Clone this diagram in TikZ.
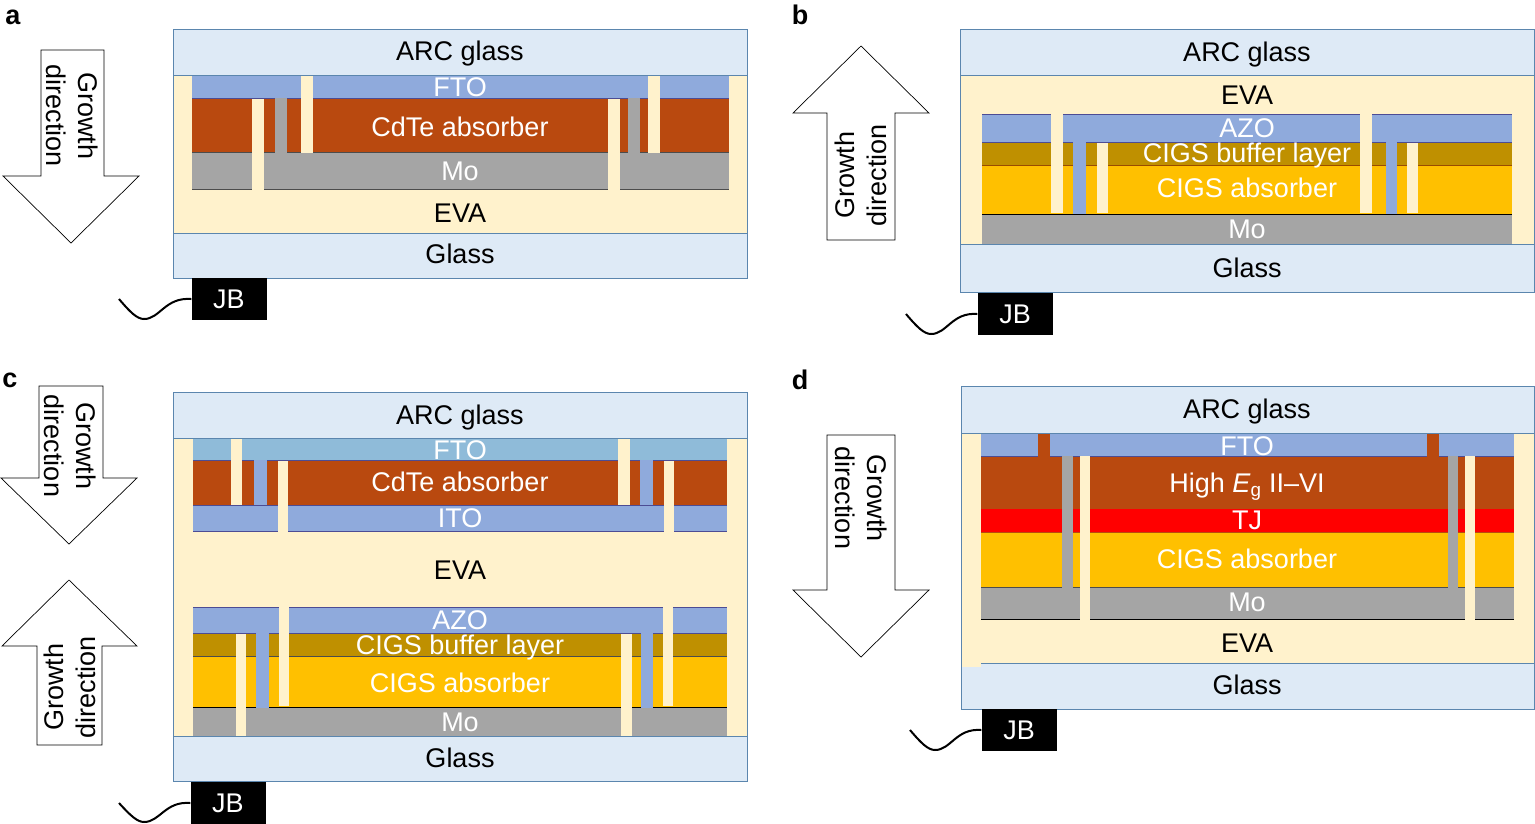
\documentclass[tikz,border=0pt]{standalone}
\usepackage{fontspec}
\setmainfont{Liberation Sans}
\definecolor{arcfill}{HTML}{DEEAF6}
\definecolor{boxline}{HTML}{5B86AE}
\definecolor{evafill}{HTML}{FFF2CC}
\definecolor{ftofill}{HTML}{8FAADC}
\definecolor{ftolight}{HTML}{8FBBD9}
\definecolor{cdtefill}{HTML}{B9490F}
\definecolor{mofill}{HTML}{A5A5A5}
\definecolor{cigsfill}{HTML}{FFC000}
\definecolor{bufferfill}{HTML}{BF9000}
\definecolor{tjfill}{HTML}{FF0000}
\tikzset{x=1pt, y=-1pt, % One unit is one pixel of the layout
every node/.style={font=\fontsize{27}{32}\selectfont, inner sep=0pt},
dark/.style={text=black}, % Labels on glass and EVA
light/.style={text=white}, % Labels on the layers
panel/.style={font=\fontsize{27}{32}\selectfont\bfseries, text=black},
outer/.style={draw=boxline, line width=1pt},
rule/.style={line width=0.8pt},
growth/.style={draw=black, line width=0.7pt, fill=white},
growthtext/.style={align=center, text=black},
jbbox/.style={fill=black, text=white, minimum width=75pt, minimum height=42pt},
wire/.style={draw=black, line width=2pt}}
\begin{document}
\begin{tikzpicture}
\useasboundingbox (0,0) rectangle (1535,823);
% panel a
\node[panel] (a-tag) at (13,17) {a};
\fill[evafill] (173,75) rectangle (747,233);
\fill[ftofill] (192,75) rectangle (729,98);
\fill[cdtefill] (192,98) rectangle (729,152);
\fill[mofill] (192,152) rectangle (729,189);
\draw[rule, blue!40!black!70] (192,98) -- (729,98);
\draw[rule, black!70] (192,152) -- (729,152);
\draw[rule, black!70] (192,189) -- (729,189);
\fill[mofill] (275,98) rectangle (287,153);
\fill[mofill] (628,98) rectangle (640,153);
\fill[evafill] (252,99) rectangle (264,190);
\fill[evafill] (301,75) rectangle (313,153);
\fill[evafill] (608,99) rectangle (620,190);
\fill[evafill] (648,75) rectangle (660,153);
\draw[outer, fill=arcfill] (173,29) rectangle (747,75);
\draw[outer, fill=arcfill] (173,233) rectangle (747,278);
\draw[outer] (173,75) -- (173,233);
\draw[outer] (747,75) -- (747,233);
\node[dark] (a-arc) at (460,54) {ARC glass};
\node[light] (a-fto) at (460,87) {FTO};
\node[light] (a-cdte) at (460,127) {CdTe absorber};
\node[light] (a-mo) at (460,171) {Mo};
\node[dark] (a-eva) at (460,213) {EVA};
\node[dark] (a-glass) at (460,254) {Glass};
\node[jbbox] (a-jb) at (229,299) {JB};
\coordinate (a-end) at (119,299);
\draw[wire] (a-end) .. controls (130,312) and (137,319) .. (144,319) .. controls (160,319) and (165,297) .. (a-jb.west);
\draw[growth] (41,50) -- (104,50) -- (104,176) -- (139,176) -- (71,243) -- (3,176) -- (41,176) -- cycle;
\node[growthtext, rotate=-90] (a-growth) at (72,116) {Growth\\direction};
% panel b
\node[panel] (b-tag) at (800,15) {b};
\fill[evafill] (960,75) rectangle (1534,244);
\fill[ftofill] (982,114) rectangle (1512,142);
\fill[bufferfill] (982,142) rectangle (1512,165);
\fill[cigsfill] (982,165) rectangle (1512,214);
\fill[mofill] (982,214) rectangle (1512,244);
\draw[rule, blue!40!black!70] (982,114) -- (1512,114);
\draw[rule, blue!40!black!70] (982,142) -- (1512,142);
\draw[rule, orange!60!black] (982,165) -- (1512,165);
\draw[rule, black] (982,214) -- (1512,214);
\fill[ftofill] (1073,142) rectangle (1086,214);
\fill[ftofill] (1386,142) rectangle (1397,214);
\fill[evafill] (1051,114) rectangle (1063,213);
\fill[evafill] (1097,143) rectangle (1108,213);
\fill[evafill] (1360,114) rectangle (1372,213);
\fill[evafill] (1407,143) rectangle (1418,213);
\draw[outer, fill=arcfill] (960,29) rectangle (1534,75);
\draw[outer, fill=arcfill] (960,244) rectangle (1534,292);
\draw[outer] (960,75) -- (960,244);
\draw[outer] (1534,75) -- (1534,244);
\node[dark] (b-arc) at (1247,55) {ARC glass};
\node[dark] (b-eva) at (1247,95) {EVA};
\node[light] (b-azo) at (1247,128) {AZO};
\node[light] (b-buffer) at (1247,156) {CIGS buffer layer};
\node[light] (b-cigs) at (1247,188) {CIGS absorber};
\node[light] (b-mo) at (1247,229) {Mo};
\node[dark] (b-glass) at (1247,268) {Glass};
\node[jbbox] (b-jb) at (1015,314) {JB};
\coordinate (b-end) at (906,314);
\draw[wire] (b-end) .. controls (917,327) and (924,334) .. (931,334) .. controls (947,334) and (952,312) .. (b-jb.west);
\draw[growth] (827,240) -- (895,240) -- (895,113) -- (929,113) -- (861,46) -- (793,113) -- (827,113) -- cycle;
\node[growthtext, rotate=90] (b-growth) at (861,175) {Growth\\direction};
% panel c
\node[panel] (c-tag) at (10,380) {c};
\fill[evafill] (173,438) rectangle (747,736);
\fill[ftolight] (193,438) rectangle (727,460);
\fill[cdtefill] (193,460) rectangle (727,505);
\fill[ftofill] (193,505) rectangle (727,531);
\fill[ftofill] (193,607) rectangle (727,633);
\fill[bufferfill] (193,633) rectangle (727,656);
\fill[cigsfill] (193,656) rectangle (727,707);
\fill[mofill] (193,707) rectangle (727,736);
\draw[rule, blue!40!black!70] (193,460) -- (727,460);
\draw[rule, blue!40!black!70] (193,505) -- (727,505);
\draw[rule, blue!40!black!70] (193,531) -- (727,531);
\draw[rule, blue!40!black!70] (193,607) -- (727,607);
\draw[rule, blue!40!black!70] (193,633) -- (727,633);
\draw[rule, black!70] (193,656) -- (727,656);
\draw[rule, black] (193,707) -- (727,707);
\fill[ftofill] (254,460) rectangle (267,505);
\fill[ftofill] (640,460) rectangle (653,505);
\fill[ftofill] (256,633) rectangle (269,708);
\fill[ftofill] (641,633) rectangle (653,708);
\fill[evafill] (231,438) rectangle (242,505);
\fill[evafill] (278,461) rectangle (288,532);
\fill[evafill] (618,438) rectangle (630,505);
\fill[evafill] (664,461) rectangle (674,532);
\fill[evafill] (279,607) rectangle (289,706);
\fill[evafill] (236,634) rectangle (246,737);
\fill[evafill] (663,607) rectangle (673,706);
\fill[evafill] (621,634) rectangle (632,737);
\draw[outer, fill=arcfill] (173,392) rectangle (747,438);
\draw[outer, fill=arcfill] (173,736) rectangle (747,781);
\draw[outer] (173,438) -- (173,736);
\draw[outer] (747,438) -- (747,736);
\node[dark] (c-arc) at (460,418) {ARC glass};
\node[light] (c-fto) at (460,450) {FTO};
\node[light] (c-cdte) at (460,482) {CdTe absorber};
\node[light] (c-ito) at (460,518) {ITO};
\node[dark] (c-eva) at (460,570) {EVA};
\node[light] (c-azo) at (460,620) {AZO};
\node[light] (c-buffer) at (460,648) {CIGS buffer layer};
\node[light] (c-cigs) at (460,683) {CIGS absorber};
\node[light] (c-mo) at (460,722) {Mo};
\node[dark] (c-glass) at (460,758) {Glass};
\node[jbbox] (c-jb) at (228,803) {JB};
\coordinate (c-end) at (119,803);
\draw[wire] (c-end) .. controls (130,815) and (137,822) .. (144,822) .. controls (160,822) and (165,801) .. (c-jb.west);
\draw[growth] (39,386) -- (103,386) -- (103,478) -- (137,478) -- (69,544) -- (1,478) -- (39,478) -- cycle;
\node[growthtext, rotate=-90] (c-growth) at (70,446) {Growth\\direction};
\draw[growth] (37,745) -- (102,745) -- (102,646) -- (137,646) -- (69,580) -- (2,646) -- (37,646) -- cycle;
\node[growthtext, rotate=90] (c-growth2) at (70,687) {Growth\\direction};
% panel d
\node[panel] (d-tag) at (800,380) {d};
\fill[evafill] (961,433) rectangle (1534,663);
\fill[evafill] (961,663) rectangle (981,667);
\fill[ftofill] (981,433) rectangle (1514,456);
\fill[cdtefill] (981,456) rectangle (1514,508);
\fill[tjfill] (981,508) rectangle (1514,532);
\fill[cigsfill] (981,532) rectangle (1514,587);
\fill[mofill] (981,587) rectangle (1514,619);
\draw[rule, blue!40!black!70] (981,456) -- (1514,456);
\draw[rule, cdtefill] (981,508) -- (1514,508);
\draw[rule, cdtefill] (981,532) -- (1514,532);
\draw[rule, black!70] (981,587) -- (1514,587);
\draw[rule, black] (981,619) -- (1514,619);
\fill[cdtefill] (1038,433) rectangle (1050,457);
\fill[cdtefill] (1427,433) rectangle (1439,457);
\fill[mofill] (1062,456) rectangle (1073,589);
\fill[mofill] (1448,456) rectangle (1458,589);
\fill[evafill] (1080,456) rectangle (1090,621);
\fill[evafill] (1465,456) rectangle (1475,621);
\draw[outer, fill=arcfill] (961,386) rectangle (1534,433);
\fill[arcfill] (981,663) rectangle (1534,709);
\fill[arcfill] (961,667) rectangle (981,709);
\draw[outer] (981,663) -- (1534,663) -- (1534,709) -- (961,709) -- (961,433);
\draw[outer] (1534,433) -- (1534,663);
\node[dark] (d-arc) at (1247,412) {ARC glass};
\node[light] (d-fto) at (1247,446) {FTO};
\node[light] (d-high) at (1247,487) {High \textit{E}\textsubscript{g} II–VI};
\node[light] (d-tj) at (1247,520) {TJ};
\node[light] (d-cigs) at (1247,559) {CIGS absorber};
\node[light] (d-mo) at (1247,602) {Mo};
\node[dark] (d-eva) at (1247,643) {EVA};
\node[dark] (d-glass) at (1247,685) {Glass};
\node[jbbox] (d-jb) at (1019,730) {JB};
\coordinate (d-end) at (910,730);
\draw[wire] (d-end) .. controls (921,743) and (928,750) .. (935,750) .. controls (951,750) and (956,728) .. (d-jb.west);
\draw[growth] (827,435) -- (895,435) -- (895,590) -- (929,590) -- (861,657) -- (793,590) -- (827,590) -- cycle;
\node[growthtext, rotate=-90] (d-growth) at (861,498) {Growth\\direction};
\end{tikzpicture}
\end{document}
